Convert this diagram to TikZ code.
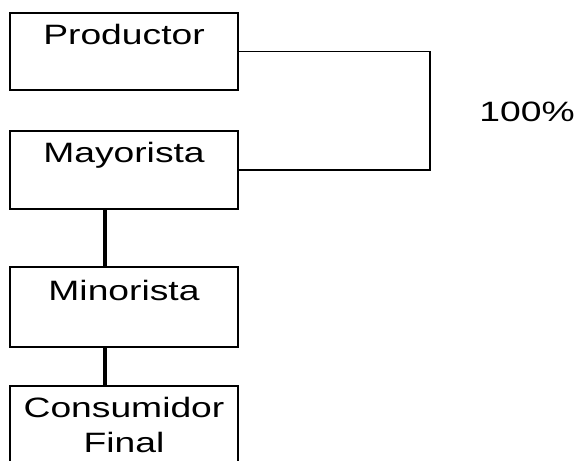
\documentclass[tikz,border=0pt]{standalone}
\usepackage{fontspec}
\setmainfont{Liberation Sans}[FakeStretch=1.33]
\begin{document}
\begin{tikzpicture}[x=1pt,y=-1pt,
  box/.style={draw, line width=2pt, inner sep=0pt, text width=228pt, align=center,
    font=\fontsize{28}{35}\selectfont, anchor=base},
  thin link/.style={draw, line width=1.2pt},
  thick link/.style={draw, line width=3.6pt},
  lbl/.style={inner sep=0pt, font=\fontsize{28}{35}\selectfont}]
\useasboundingbox (0,0) rectangle (577,460);
\node[box, text height=32pt, text depth=45pt] (prod) at (124,45) {Productor};
\node[box, text height=31pt, text depth=47pt] (may) at (124,162) {Mayorista};
\node[box, text height=33pt, text depth=47pt] (min) at (124,300) {Minorista};
\node[box, text height=31pt, text depth=50pt] (cons) at (124,417) {Consumidor\\Final};
\coordinate (rx) at (430,0);
\coordinate (cx) at (105,0);
\node[lbl] (pct) at (527,112) {100\%};
\draw[thin link] (prod.east) -- (prod.east -| rx) -- (may.east -| rx) -- (may.east);
\draw[thick link] (may.south -| cx) -- (min.north -| cx);
\draw[thick link] (min.south -| cx) -- (cons.north -| cx);
\end{tikzpicture}
\end{document}
